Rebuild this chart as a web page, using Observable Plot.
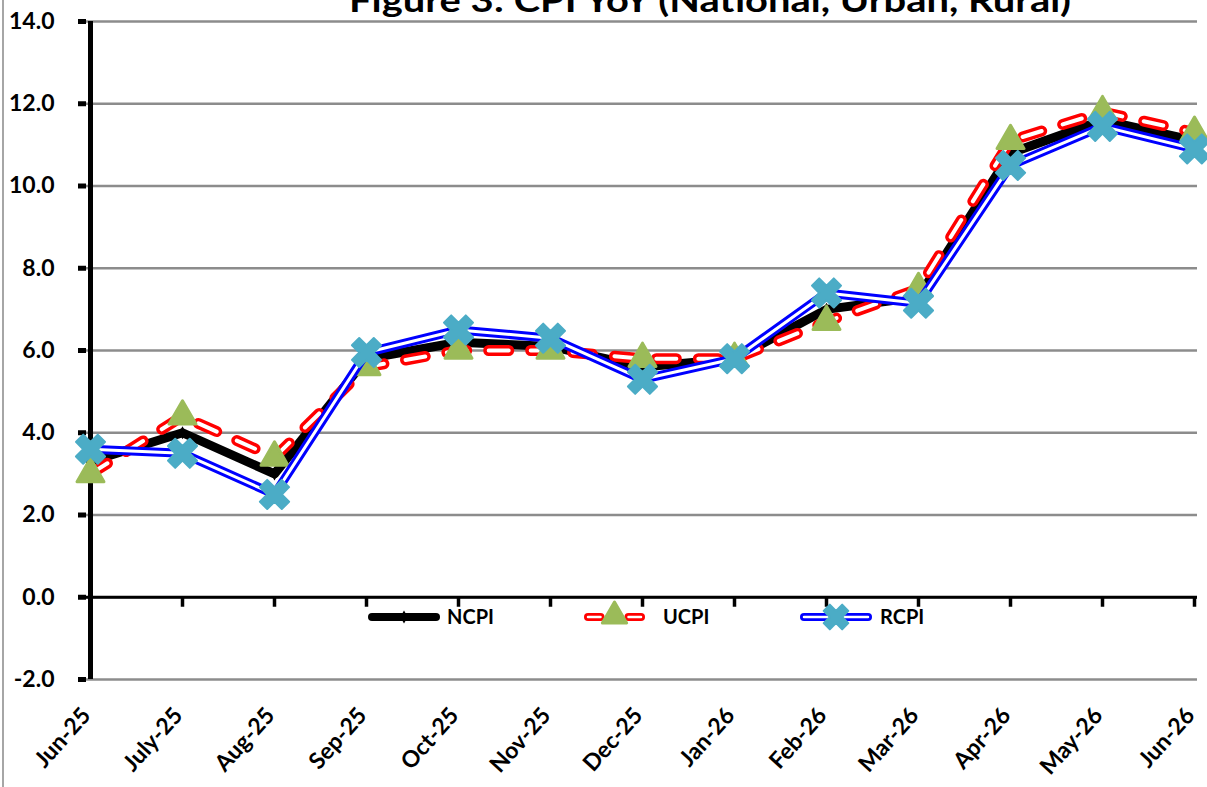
<!DOCTYPE html>
<html>
<head>
<meta charset="utf-8">
<script src="https://cdn.jsdelivr.net/npm/d3@7"></script>
<script src="https://cdn.jsdelivr.net/npm/@observablehq/plot@0.6"></script>
<style>
  html, body { margin: 0; padding: 0; background: #ffffff; }
  #wrap { position: relative; width: 1207px; height: 787px; overflow: hidden; background: #fff; font-family: Lato, "Open Sans", sans-serif; }
  #chart, #overlay { position: absolute; left: 0; top: 0; }
  #frameLeft { position: absolute; left: 2px; top: 0; width: 2px; height: 787px; background: #a6a6a6; }
</style>
</head>
<body>
<div id="wrap">
  <div id="frameLeft"></div>
  <div id="chart"></div>
  <svg id="overlay" width="1207" height="787"></svg>
</div>
<script>
// ---- data ----
const titleText = "Figure 3: CPI YoY (National, Urban, Rural)";
const months = ["Jun-25","July-25","Aug-25","Sep-25","Oct-25","Nov-25","Dec-25","Jan-26","Feb-26","Mar-26","Apr-26","May-26","Jun-26"];
const ncpi = [3.3, 4.0, 3.0, 5.8, 6.2, 6.1, 5.6, 5.8, 7.0, 7.3, 10.8, 11.6, 11.1];
const ucpi = [3.0, 4.4, 3.4, 5.6, 6.0, 6.0, 5.8, 5.8, 6.7, 7.5, 11.1, 11.8, 11.3];
const rcpi = [3.6, 3.5, 2.5, 5.95, 6.5, 6.3, 5.3, 5.8, 7.4, 7.15, 10.5, 11.45, 10.9];
const yTicks = [-2, 0, 2, 4, 6, 8, 10, 12, 14];
const seriesNames = ["NCPI", "UCPI", "RCPI"];

const rows = (vals) => months.map((m, i) => ({month: m, value: vals[i]}));
const nRows = rows(ncpi), uRows = rows(ucpi), rRows = rows(rcpi);

const FONT = "Lato, 'Open Sans', sans-serif";
const GREEN = "#9bbb59", TEAL = "#4bacc6";

const chart = Plot.plot({
  width: 1207,
  height: 787,
  marginLeft: 86,
  marginRight: 10,
  marginTop: 21,
  marginBottom: 108,
  style: {fontFamily: FONT, background: "transparent", color: "#000"},
  x: {type: "point", domain: months, padding: 0, label: null},
  y: {domain: [-2, 14], label: null},
  marks: [
    Plot.gridY(yTicks, {stroke: "#8c8c8c", strokeOpacity: 1, strokeWidth: 2.5}),
    Plot.ruleY([0], {stroke: "#000", strokeWidth: 3}),
    Plot.ruleX(months, {x: d => d, y1: () => 0, y2: () => 0, insetBottom: -10, stroke: "#000", strokeWidth: 3.5}),
    Plot.ruleX([months[0]], {x: d => d, y1: () => -2, y2: () => 14, stroke: "#000", strokeWidth: 5}),
    Plot.axisY(yTicks, {label: null, tickFormat: d => d.toFixed(1), tickSize: 8, strokeWidth: 5, stroke: "#000", tickPadding: 24, fontSize: 23, fontWeight: "bold"}),
    Plot.axisX({label: null, tickSize: 0, tickRotate: -48, tickPadding: 30, dx: -4, dy: 2, fontSize: 23, fontWeight: "bold"}),
    // NCPI
    Plot.line(nRows, {x: "month", y: "value", stroke: "#000", strokeWidth: 9, strokeLinejoin: "round"}),
    Plot.dot(nRows, {x: "month", y: "value", symbol: "diamond", fill: "#000", r: 4}),
    // UCPI
    Plot.line(uRows, {x: "month", y: "value", stroke: "#ff0000", strokeWidth: 11, strokeDasharray: "20,22", strokeLinecap: "round", strokeLinejoin: "round"}),
    Plot.line(uRows, {x: "month", y: "value", stroke: "#ffffff", strokeWidth: 4, strokeDasharray: "20,22", strokeLinecap: "round", strokeLinejoin: "round"}),
    Plot.dot(uRows, {x: "month", y: "value", symbol: "triangle", fill: GREEN, stroke: GREEN, strokeWidth: 3, strokeLinejoin: "round", r: 10}),
    // RCPI
    Plot.line(rRows, {x: "month", y: "value", stroke: "#0000ff", strokeWidth: 9, strokeLinejoin: "round"}),
    Plot.line(rRows, {x: "month", y: "value", stroke: "#ffffff", strokeWidth: 3, strokeLinejoin: "round"}),
    Plot.dot(rRows, {x: "month", y: "value", symbol: "cross", rotate: 45, fill: TEAL, stroke: TEAL, strokeWidth: 2, strokeLinejoin: "round", r: 13})
  ]
});
document.getElementById("chart").appendChild(chart);

// ---- title and legend overlay ----
const ov = d3.select("#overlay");
ov.append("text")
  .attr("x", 710).attr("y", 12)
  .attr("text-anchor", "middle")
  .attr("font-family", FONT).attr("font-weight", "bold").attr("font-size", 32)
  .attr("textLength", 722).attr("lengthAdjust", "spacingAndGlyphs")
  .text(titleText);

const legendItems = [
  {name: seriesNames[0], x0: 368, x1: 440, tx: 447},
  {name: seriesNames[1], x0: 584, x1: 645, tx: 663},
  {name: seriesNames[2], x0: 800, x1: 872, tx: 880}
];
const ly = 617;
const symTri = d3.symbol(d3.symbolTriangle, Math.PI * 9 * 9)();
const symCross = d3.symbol(d3.symbolCross, Math.PI * 11 * 11)();
const symDia = d3.symbol(d3.symbolDiamond, Math.PI * 4 * 4)();
legendItems.forEach((it, i) => {
  const g = ov.append("g");
  const mx = (it.x0 + it.x1) / 2;
  if (i === 0) {
    g.append("line").attr("x1", it.x0 + 4).attr("x2", it.x1 - 4).attr("y1", ly).attr("y2", ly)
      .attr("stroke", "#000").attr("stroke-width", 8).attr("stroke-linecap", "round");
    g.append("path").attr("d", symDia).attr("transform", `translate(${mx},${ly})`).attr("fill", "#000");
  } else if (i === 1) {
    [[it.x0 + 4, mx - 14], [mx + 14, it.x1 - 4]].forEach(([a, b]) => {
      g.append("line").attr("x1", a).attr("x2", b).attr("y1", ly).attr("y2", ly)
        .attr("stroke", "#ff0000").attr("stroke-width", 8).attr("stroke-linecap", "round");
      g.append("line").attr("x1", a).attr("x2", b).attr("y1", ly).attr("y2", ly)
        .attr("stroke", "#fff").attr("stroke-width", 2.5).attr("stroke-linecap", "round");
    });
    g.append("path").attr("d", symTri).attr("transform", `translate(${mx},${ly - 1})`)
      .attr("fill", GREEN).attr("stroke", GREEN).attr("stroke-width", 3).attr("stroke-linejoin", "round");
  } else {
    g.append("line").attr("x1", it.x0 + 4).attr("x2", it.x1 - 4).attr("y1", ly).attr("y2", ly)
      .attr("stroke", "#0000ff").attr("stroke-width", 8).attr("stroke-linecap", "round");
    g.append("line").attr("x1", it.x0 + 4).attr("x2", it.x1 - 4).attr("y1", ly).attr("y2", ly)
      .attr("stroke", "#fff").attr("stroke-width", 2.5).attr("stroke-linecap", "round");
    g.append("path").attr("d", symCross).attr("transform", `translate(${mx},${ly}) rotate(45)`)
      .attr("fill", TEAL).attr("stroke", TEAL).attr("stroke-width", 2).attr("stroke-linejoin", "round");
  }
  g.append("text").attr("x", it.tx).attr("y", ly + 7)
    .attr("font-family", FONT).attr("font-weight", "bold").attr("font-size", 20)
    .attr("fill", "#000").text(it.name);
});
</script>
</body>
</html>
